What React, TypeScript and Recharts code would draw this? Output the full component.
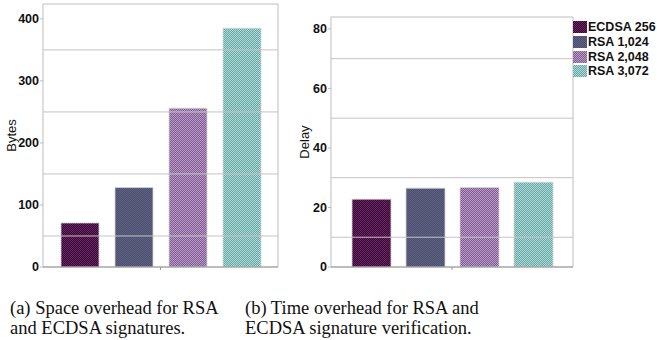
import { Bar, BarChart, ReferenceArea, ReferenceLine, XAxis, YAxis } from "recharts";

const seriesNames = ["ECDSA 256", "RSA 1,024", "RSA 2,048", "RSA 3,072"];
const seriesKeys = ["ecdsa256", "rsa1024", "rsa2048", "rsa3072"];
const spaceBytes = [71, 128, 256, 385];
const verifyDelay = [22.8, 26.5, 26.7, 28.5];
const spaceTicks = [0, 100, 200, 300, 400];
const spaceGrid = [50, 150, 250, 350];
const delayTicks = [0, 20, 40, 60, 80];
const delayGrid = [10, 30, 50, 70];

// two-tone checker fills, roughly like the dithered originals
const fills = [
  ["#2c0a2e", "#74206a"],
  ["#4e516e", "#5d6082"],
  ["#7c5c8c", "#bc9acb"],
  ["#6aa4a4", "#acdcd8"],
];

const SANS = '"Liberation Sans", Arial, sans-serif';
const SERIF = '"Liberation Serif", "Times New Roman", serif';

function Patterns() {
  return (
    <svg width={0} height={0} style={{ position: "absolute" }}>
      <defs>
        {fills.map(([a, b], i) => (
          <pattern key={i} id={`pat${i}`} width={2} height={2} patternUnits="userSpaceOnUse">
            <rect width={2} height={2} fill={a} />
            <rect width={1} height={1} fill={b} />
            <rect x={1} y={1} width={1} height={1} fill={b} />
          </pattern>
        ))}
      </defs>
    </svg>
  );
}

const axisTitle = (text: string, dx: number) => (props: any) => {
  const vb = props.viewBox || {};
  const cx = (vb.x ?? 0) + dx;
  const cy = (vb.y ?? 0) + (vb.height ?? 0) / 2;
  return (
    <text
      x={cx}
      y={cy}
      transform={`rotate(-90 ${cx} ${cy})`}
      textAnchor="middle"
      dominantBaseline="central"
      fontSize={13}
      fontFamily={SANS}
      fill="#111"
    >
      {text}
    </text>
  );
};

function OverheadChart({
  values,
  ticks,
  grid,
  yMax,
  title,
  titleX,
  width,
  margin,
  axisWidth,
  barSize,
  barGap,
}: {
  values: number[];
  ticks: number[];
  grid: number[];
  yMax: number;
  title: string;
  titleX: number;
  width: number;
  margin: { top: number; right: number; left: number; bottom: number };
  axisWidth: number;
  barSize: number;
  barGap: number;
}) {
  const row: Record<string, string | number> = { name: "" };
  seriesKeys.forEach((k, i) => (row[k] = values[i]));
  return (
    <BarChart width={width} height={282} data={[row]} margin={margin} barGap={barGap}>
      <ReferenceArea y1={0} y2={yMax} fill="none" stroke="#bdbdbd" ifOverflow="visible" />
      {grid.map((g) => (
        <ReferenceLine key={g} y={g} stroke="#c4c4c4" />
      ))}
      <XAxis
        dataKey="name"
        height={15}
        tickSize={3}
        stroke="#9a9a9a"
        tickFormatter={() => ""}
      />
      <YAxis
        width={axisWidth}
        domain={[0, yMax]}
        ticks={ticks}
        interval={0}
        axisLine={false}
        tickSize={3}
        tickLine={{ stroke: "#bdbdbd" }}
        tickMargin={1}
        tick={{ fontSize: 12.5, fontWeight: 700, fontFamily: SANS, fill: "#111" }}
        label={{ content: axisTitle(title, titleX) }}
      />
      {seriesKeys.map((k, i) => (
        <Bar
          key={k}
          dataKey={k}
          name={seriesNames[i]}
          barSize={barSize}
          fill={`url(#pat${i})`}
          stroke="#d4d4d4"
          strokeWidth={0.8}
          isAnimationActive={false}
        />
      ))}
    </BarChart>
  );
}

const captionStyle = {
  position: "absolute" as const,
  top: 298,
  fontFamily: SERIF,
  fontSize: 18.5,
  lineHeight: "20px",
  color: "#111",
  whiteSpace: "nowrap" as const,
};

export default function App() {
  return (
    <div
      style={{
        position: "absolute",
        left: 0,
        top: 0,
        width: 657,
        height: 340,
        background: "#fff",
        fontFamily: SANS,
      }}
    >
      <Patterns />
      <div style={{ position: "absolute", left: 0, top: 0 }}>
        <OverheadChart
          values={spaceBytes}
          ticks={spaceTicks}
          grid={spaceGrid}
          yMax={424}
          title="Bytes"
          titleX={11}
          width={280}
          margin={{ top: 4, right: 2, left: 0, bottom: 0 }}
          axisWidth={43}
          barSize={38}
          barGap={16}
        />
      </div>
      <div style={{ position: "absolute", left: 290, top: 0 }}>
        <OverheadChart
          values={verifyDelay}
          ticks={delayTicks}
          grid={delayGrid}
          yMax={84}
          title="Delay"
          titleX={14}
          width={367}
          margin={{ top: 17, right: 84, left: 0, bottom: 0 }}
          axisWidth={41}
          barSize={39}
          barGap={15}
        />
      </div>
      <div style={{ position: "absolute", left: 573, top: 20 }}>
        {seriesNames.map((n, i) => (
          <div key={n} style={{ display: "flex", alignItems: "center", height: 14.7 }}>
            <svg width={14} height={12} style={{ display: "block" }}>
              <rect width={14} height={12} fill={`url(#pat${i})`} />
            </svg>
            <span style={{ fontSize: 12.5, fontWeight: 700, color: "#111", marginLeft: 1, whiteSpace: "nowrap" }}>
              {n}
            </span>
          </div>
        ))}
      </div>
      <div style={{ ...captionStyle, left: 10 }}>
        (a) Space overhead for RSA
        <br />
        and ECDSA signatures.
      </div>
      <div style={{ ...captionStyle, left: 245 }}>
        (b) Time overhead for RSA and
        <br />
        ECDSA signature verification.
      </div>
    </div>
  );
}
